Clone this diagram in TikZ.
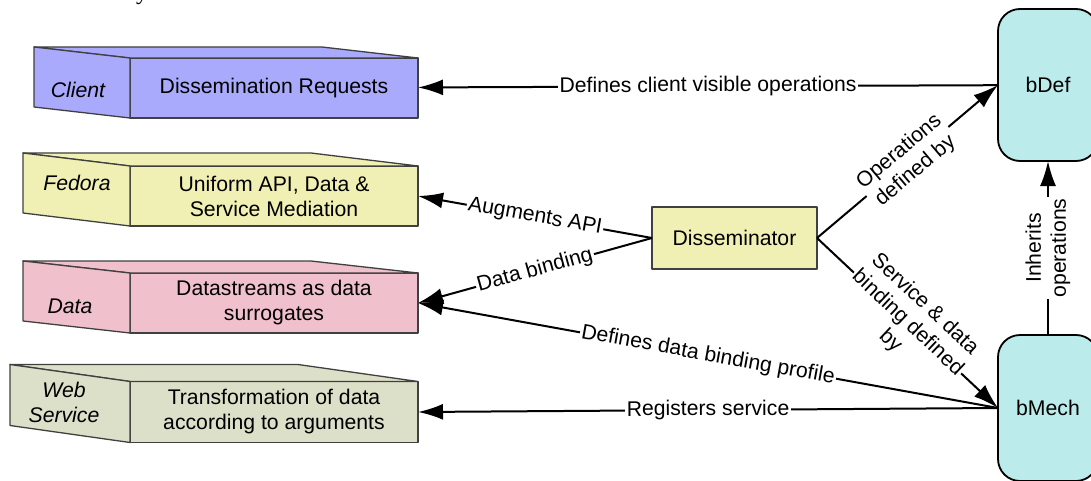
\documentclass[tikz,border=0pt]{standalone}
\usepackage{fontspec}
\setmainfont{Liberation Sans}
\newfontfamily\titlefont{Liberation Serif}
\usetikzlibrary{arrows.meta}
\definecolor{clientblue}{HTML}{AAAAFD}
\definecolor{fedorayellow}{HTML}{F0F0B4}
\definecolor{datapink}{HTML}{F0C0CC}
\definecolor{webgreen}{HTML}{DDE0C9}
\definecolor{bcyan}{HTML}{BBEBEB}
\begin{document}
\begin{tikzpicture}[x=1pt,y=-1pt,
    every node/.style={font=\fontsize{21.2}{25}\selectfont},
    face/.style={draw=black!75,line width=1.3pt,line join=round},
    front/.style={face,minimum width=288pt,minimum height=60pt,inner sep=0pt,outer sep=0pt,align=center},
    side/.style={font=\fontsize{21.2}{25}\selectfont\itshape,align=center},
    bobj/.style={draw,line width=1.8pt,rounded corners=22pt,fill=bcyan,minimum width=100pt,outer sep=0pt},
    link/.style={-{Latex[length=25pt,width=16pt]},line width=2pt},
    lbl/.style={fill=white,inner sep=1.5pt,sloped,align=center}]
\useasboundingbox (0,0) rectangle (1091,481);
% title, cut off at the top
\node[anchor=base,font=\fontsize{24}{24}\selectfont\titlefont] (title) at (142,0) {y};
%-- Client
\node[front,fill=clientblue] (clientreq) at (274,88) {Dissemination Requests};
\filldraw[face,fill=clientblue] (clientreq.north west) -- ++(-96,-11) -- ++(288,0) -- (clientreq.north east) -- cycle;
\filldraw[face,fill=clientblue] (clientreq.north west) -- ++(-96,-11) -- ++(0,60) -- (clientreq.south west) -- cycle;
\node[side] (client) at (78,90) {Client};
%-- Fedora
\node[front,fill=fedorayellow] (fedorareq) at (274,196) {Uniform API, Data \&\\Service Mediation};
\filldraw[face,fill=fedorayellow] (fedorareq.north west) -- ++(-107,-13) -- ++(288,0) -- (fedorareq.north east) -- cycle;
\filldraw[face,fill=fedorayellow] (fedorareq.north west) -- ++(-107,-13) -- ++(0,60) -- (fedorareq.south west) -- cycle;
\node[side] (fedora) at (77,183) {Fedora};
%-- Data
\node[front,fill=datapink] (datareq) at (274,303) {Datastreams as data\\surrogates};
\filldraw[face,fill=datapink] (datareq.north west) -- ++(-107,-12) -- ++(288,0) -- (datareq.north east) -- cycle;
\filldraw[face,fill=datapink] (datareq.north west) -- ++(-107,-12) -- ++(0,60) -- (datareq.south west) -- cycle;
\node[side] (data) at (70,306) {Data};
%-- Web Service
\node[front,fill=webgreen,minimum height=61pt] (webreq) at (274,412) {Transformation of data\\according to arguments};
\filldraw[face,fill=webgreen] (webreq.north west) -- ++(-120,-17) -- ++(288,0) -- (webreq.north east) -- cycle;
\filldraw[face,fill=webgreen] (webreq.north west) -- ++(-120,-17) -- ++(0,61) -- (webreq.south west) -- cycle;
\node[side] (web) at (64,402) {Web\\Service};
%-- objects
\node[face,fill=fedorayellow,minimum width=165pt,minimum height=62pt,outer sep=0pt] (dissem) at (734.5,238) {Disseminator};
\node[bobj,minimum height=152pt] (bdef) at (1048,85) {bDef};
\node[bobj,minimum height=146pt] (bmech) at (1048,408) {bMech};
%-- relations
\draw[link] (bdef) -- node[lbl] {Defines client visible operations} (clientreq);
\draw[link] (dissem.west) -- node[lbl] {Augments API} (fedorareq.east);
\draw[link] (dissem.west) -- node[lbl] {Data binding} (datareq.east);
\draw[link] (dissem.east) -- node[lbl] {Operations\\defined by} (bdef.west);
\draw[link] (dissem.east) -- node[lbl] {Service \& data\\binding defined\\by} (bmech.west);
\draw[link] (bmech.west) -- node[lbl] {Defines data binding profile} (datareq.east);
\draw[link] (bmech.west) -- node[lbl] {Registers service} (webreq.east);
\draw[link] (bmech.north) -- node[lbl] {Inherits\\operations} (bdef.south);
\end{tikzpicture}
\end{document}
